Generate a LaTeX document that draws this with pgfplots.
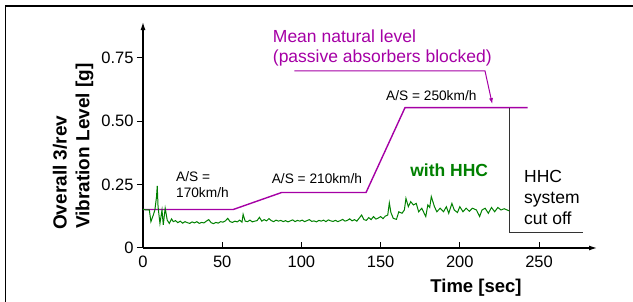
\documentclass[border=0pt]{standalone}
\usepackage{fontspec}
\setmainfont{Liberation Sans}
\usepackage{pgfplots}
\pgfplotsset{compat=1.18}
\usetikzlibrary{arrows.meta}
\definecolor{pur}{RGB}{165,0,165}
\definecolor{grn}{RGB}{0,128,0}
\begin{document}
\begin{tikzpicture}
\useasboundingbox (-143pt,-54pt) rectangle (490pt,248pt);
\draw[line width=1.5pt] (-137.5pt,-60pt) -- (-137.5pt,242pt) -- (500pt,242pt);
\begin{axis}[
  at={(0pt,0pt)}, anchor=south west,
  scale only axis, width=454pt, height=226pt,
  xmin=0, xmax=286.6, ymin=0, ymax=0.892,
  axis lines=left,
  axis line style={line width=1.2pt, -{Latex[length=8pt,width=5pt]}},
  clip=false,
  xtick={0,50,100,150,200,250},
  xticklabels={0,50,100,150,200,250},
  ytick={0,0.25,0.5,0.75},
  yticklabels={0,0.25,0.50,0.75},
  tick style={line width=1pt, black},
  xtick align=inside, ytick align=outside,
  major tick length=6pt,
  tick label style={font=\fontsize{16.5}{18}\selectfont},
  x tick label style={yshift=-4pt},
  /pgf/number format/assume math mode=true,
]
\addplot[pur, line width=1.4pt] coordinates {(0,0.152) (57,0.152) (87.5,0.219) (140.8,0.219) (165.4,0.554) (242.8,0.554)};
\addplot[black!80, line width=1pt] coordinates {(231.3,0.554) (231.3,0.063) (277.6,0.063)};
\addplot[pur, line width=1pt, -{Latex[length=6pt,width=4pt]}] coordinates {(95.5,0.699) (215.9,0.699) (220.5,0.568)};
\addplot[grn, line width=1pt] coordinates {
(0,0.153) (2,0.150) (4,0.150) (5,0.104) (6.5,0.130) (7.5,0.150) (8.5,0.200) (9,0.245) (9.5,0.163) (10.7,0.097)
(12,0.150) (12.8,0.091) (14,0.157) (15.3,0.110) (16.6,0.097) (18,0.115) (19.1,0.104) (20.5,0.108) (22,0.100) (23.5,0.106)
(25,0.098) (26.5,0.104) (28,0.100) (29.5,0.097) (31,0.103) (32.5,0.099) (34,0.104) (35.5,0.097) (37,0.101) (38.5,0.099)
(40,0.106) (41.5,0.112) (43,0.100) (44.5,0.096) (46,0.101) (47.5,0.098) (49,0.104) (50.5,0.102) (52,0.107) (53.5,0.117)
(55,0.104) (56.5,0.101) (58,0.106) (59.5,0.103) (61,0.110) (62.5,0.102) (63.2,0.133) (64.5,0.106) (66,0.104) (67.5,0.110)
(69,0.103) (70.5,0.106) (72,0.108) (73.5,0.121) (75,0.106) (76.5,0.112) (78,0.107) (79.5,0.116) (81,0.108) (82.5,0.104)
(84,0.110) (85.5,0.106) (87,0.109) (88.5,0.104) (90,0.108) (91.5,0.103) (93,0.107) (94.5,0.111) (96,0.104) (97.5,0.109)
(99,0.106) (100.5,0.110) (102,0.104) (103.5,0.108) (105,0.112) (106.5,0.105) (108,0.107) (109.5,0.103) (111,0.109) (112.5,0.106)
(114,0.110) (115.5,0.104) (117,0.111) (118.5,0.107) (120,0.105) (121.5,0.109) (123,0.104) (124.5,0.108) (126,0.113) (127.5,0.106)
(129,0.109) (130.5,0.115) (132,0.107) (133.5,0.112) (135,0.106) (136.5,0.118) (138,0.130) (139.5,0.112) (141,0.109) (142.5,0.120)
(144,0.112) (145.5,0.124) (147,0.114) (148.5,0.118) (150,0.124) (151.5,0.116) (153,0.126) (154.5,0.130) (155.5,0.178) (156.5,0.140)
(158,0.117) (160,0.113) (161.5,0.143) (163.5,0.137) (165,0.150) (166,0.196) (167.5,0.163) (169,0.183) (170.7,0.170) (172.5,0.176)
(174,0.143) (176,0.157) (177.5,0.137) (178.5,0.124) (179.8,0.170) (181,0.160) (182,0.203) (184,0.163) (185.5,0.143) (187.6,0.157)
(189.7,0.143) (191.5,0.163) (193,0.137) (195,0.176) (196.5,0.150) (198.5,0.140) (200,0.163) (202,0.143) (204,0.157) (206,0.145)
(208,0.157) (210.5,0.150) (212.5,0.124) (214,0.150) (216,0.157) (218,0.137) (220,0.160) (222,0.143) (224,0.160) (226,0.150)
(228,0.155) (231,0.147)
};
\node[pur, anchor=base west, inner sep=0, font=\fontsize{17.5}{20}\selectfont] at (axis cs:81.9,0.812) {Mean natural level};
\node[pur, anchor=base west, inner sep=0, font=\fontsize{17.5}{20}\selectfont] at (axis cs:81.9,0.732) {(passive absorbers blocked)};
\node[anchor=base west, inner sep=0, font=\fontsize{13.7}{15}\selectfont] at (axis cs:153.4,0.584) {A/S = 250km/h};
\node[anchor=base west, inner sep=0, font=\fontsize{13.7}{15}\selectfont] at (axis cs:81.2,0.255) {A/S = 210km/h};
\node[anchor=base west, inner sep=0, font=\fontsize{13.7}{15}\selectfont] at (axis cs:20.8,0.262) {A/S =};
\node[anchor=base west, inner sep=0, font=\fontsize{13.7}{15}\selectfont] at (axis cs:20.8,0.200) {170km/h};
\node[grn, anchor=base west, inner sep=0, font=\fontsize{17.5}{20}\selectfont\bfseries] at (axis cs:168.6,0.284) {with HHC};
\node[anchor=base west, inner sep=0, font=\fontsize{17.5}{20}\selectfont] at (axis cs:240.5,0.257) {HHC};
\node[anchor=base west, inner sep=0, font=\fontsize{17.5}{20}\selectfont] at (axis cs:240.5,0.174) {system};
\node[anchor=base west, inner sep=0, font=\fontsize{17.5}{20}\selectfont] at (axis cs:240.5,0.091) {cut off};
\end{axis}
\node[rotate=90, anchor=base west, inner sep=0, font=\fontsize{19}{22}\selectfont\bfseries] at (-76.3pt,18pt) {Overall 3/rev};
\node[rotate=90, anchor=base west, inner sep=0, font=\fontsize{19}{22}\selectfont\bfseries] at (-53.7pt,19pt) {Vibration Level [g]};
\node[anchor=base, inner sep=0, font=\fontsize{18.5}{22}\selectfont\bfseries] at (333pt,-45pt) {Time [sec]};
\end{tikzpicture}
\end{document}
